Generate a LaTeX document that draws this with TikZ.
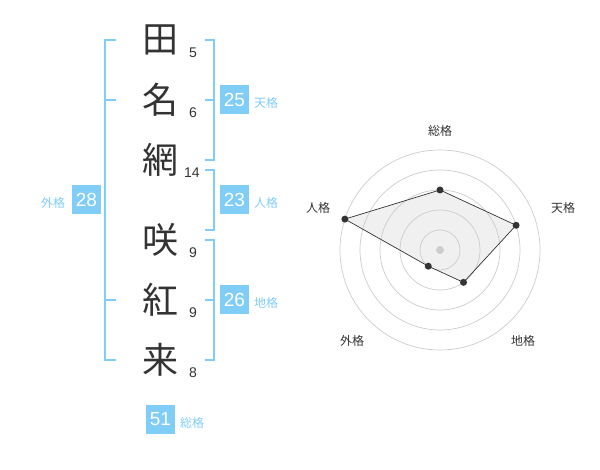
\documentclass[tikz,border=0pt]{standalone}
\usepackage{fontspec}
\setmainfont{Liberation Sans}
\newfontfamily\cjk{Noto Sans CJK JP}
\definecolor{sky}{HTML}{80CDF8}
\definecolor{ink}{HTML}{333333}
\definecolor{ring}{HTML}{CCCCCC}
\definecolor{area}{HTML}{F0F0F0}
\tikzset{
  kanji/.style={text=ink,font=\cjk\fontsize{36}{36}\selectfont,inner sep=0pt},
  strokes/.style={text=ink,font=\fontsize{14}{14}\selectfont,inner sep=0pt},
  bracket/.style={draw=sky,line width=2pt},
  scorebox/.style={fill=sky,text=white,minimum size=29pt,inner sep=0pt,font=\fontsize{19}{19}\selectfont},
  scorelabel/.style={text=sky,font=\cjk\fontsize{12}{12}\selectfont,inner sep=0pt},
  axislabel/.style={text=ink,font=\cjk\fontsize{12}{12}\selectfont,inner sep=0pt},
  ringline/.style={draw=ring,line width=0.7pt},
  dot/.style={circle,fill=ink,minimum size=7pt,inner sep=0pt},
}
\begin{document}
\begin{tikzpicture}[x=1pt,y=-1pt]
\useasboundingbox (0,0) rectangle (600,470);
% name characters
\node[kanji] (k1) at (160,40) {田};
\node[kanji] (k2) at (160,100) {名};
\node[kanji] (k3) at (160,160) {網};
\node[kanji] (k4) at (160,240) {咲};
\node[kanji] (k5) at (160,300) {紅};
\node[kanji] (k6) at (160,360) {来};
% stroke counts
\node[strokes] (s1) at (193,53) {5};
\node[strokes] (s2) at (193,113) {6};
\node[strokes] (s3) at (192,173) {14};
\node[strokes] (s4) at (193,253) {9};
\node[strokes] (s5) at (193,313) {9};
\node[strokes] (s6) at (193,373) {8};
% brackets
\draw[bracket] (116,40) -- (105,40) -- (105,360) -- (116,360);
\draw[bracket] (105,100) -- (116,100);
\draw[bracket] (105,300) -- (116,300);
\draw[bracket] (205,40) -- (214,40) -- (214,160) -- (205,160);
\draw[bracket] (205,100) -- (214,100);
\draw[bracket] (205,170) -- (214,170) -- (214,230) -- (205,230);
\draw[bracket] (205,240) -- (214,240) -- (214,360) -- (205,360);
\draw[bracket] (205,300) -- (214,300);
% score boxes
\node[scorebox] (ten) at (234.5,100) {25};
\node[scorelabel] (tenl) at (266,103) {天格};
\node[scorebox] (jin) at (234.5,200) {23};
\node[scorelabel] (jinl) at (266,203) {人格};
\node[scorebox] (chi) at (234.5,300) {26};
\node[scorelabel] (chil) at (266,303) {地格};
\node[scorebox] (gai) at (86.5,200) {28};
\node[scorelabel] (gail) at (53,203) {外格};
\node[scorebox] (sou) at (160.5,419) {51};
\node[scorelabel] (soul) at (192,423) {総格};
% radar chart
\begin{scope}[shift={(440,250)}]
  \coordinate (pS) at (-90:60);
  \coordinate (pT) at (-18:80);
  \coordinate (pC) at (54:40);
  \coordinate (pG) at (126:20);
  \coordinate (pJ) at (198:100);
  \fill[area] (pS) -- (pT) -- (pC) -- (pG) -- (pJ) -- cycle;
  \foreach \r in {20,40,60,80,100} \draw[ringline] (0,0) circle (\r);
  \fill[ring] (0,0) circle (4);
  \draw[draw=ink,line width=0.7pt] (pS) -- (pT) -- (pC) -- (pG) -- (pJ) -- cycle;
  \foreach \p in {pS,pT,pC,pG,pJ} \node[dot] at (\p) {};
\end{scope}
\node[axislabel] (aS) at (440,131) {総格};
\node[axislabel] (aT) at (563,208) {天格};
\node[axislabel] (aC) at (523,341) {地格};
\node[axislabel] (aG) at (352,341) {外格};
\node[axislabel] (aJ) at (318,208) {人格};
\end{tikzpicture}
\end{document}
